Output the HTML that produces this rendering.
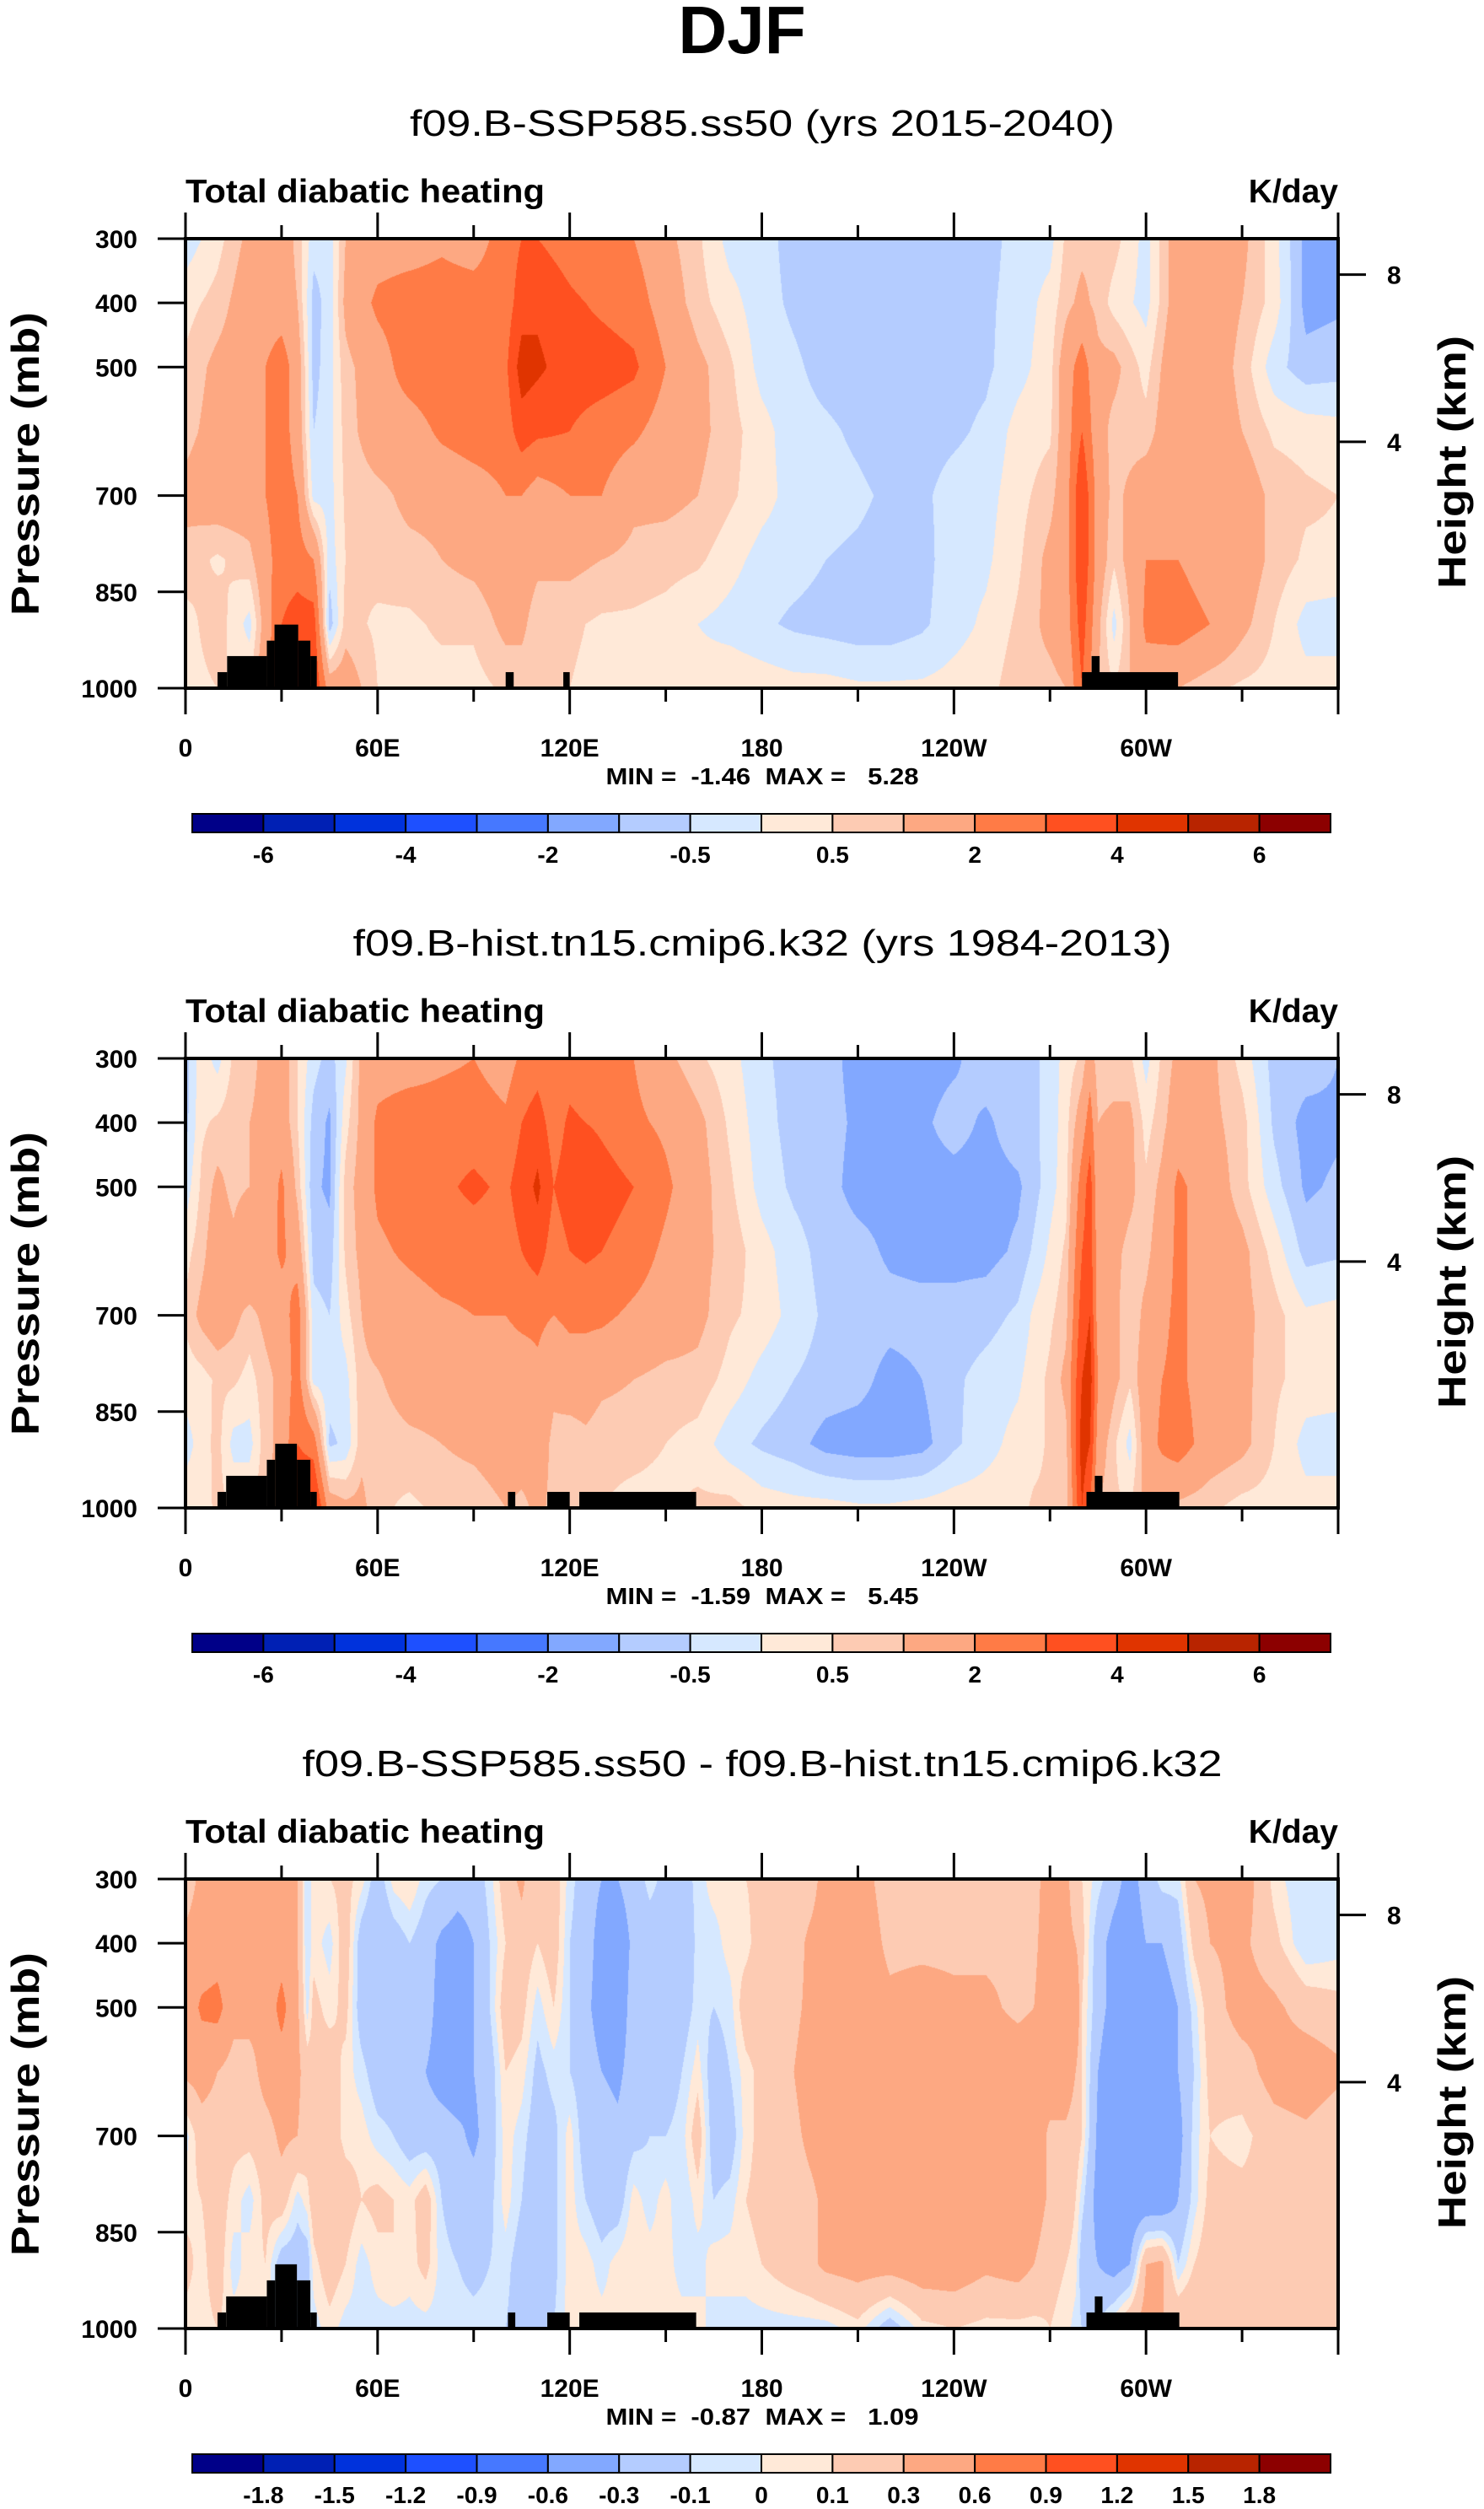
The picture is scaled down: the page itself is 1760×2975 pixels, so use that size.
<!DOCTYPE html>
<html><head><meta charset="utf-8">
<style>
html,body{margin:0;padding:0;background:#fff;}
body{width:1760px;height:2975px;position:relative;overflow:hidden;font-family:"Liberation Sans",sans-serif;}
canvas{position:absolute;}
svg{position:absolute;left:0;top:0;}
text{font-family:"Liberation Sans",sans-serif;}
.pre{white-space:pre;}
</style></head>
<body>
<canvas id="c0" width="1367" height="533" style="left:220px;top:283px"></canvas>
<canvas id="c1" width="1367" height="533" style="left:220px;top:1255px"></canvas>
<canvas id="c2" width="1367" height="533" style="left:220px;top:2228px"></canvas>
<svg id="fig" width="1760" height="2975" xmlns="http://www.w3.org/2000/svg">
<text x="880" y="63" text-anchor="middle" font-size="80" font-weight="bold">DJF</text>
</svg>
<script>
// ---- data ----
const levels = [300,400,500,600,700,800,900,1000];
const lons1 = [0,10,20,30,35,40,45,50,60,70,80,90,100,105,110,120,130,140,150,160,170,180,190,200,210,220,230,240,250,260,270,275,280,285,290,300,310,320,330,340,350,360];
const cols1 = [
[-0.3,0.3,0.6,0.8,1.2,0.8,0.3,0.3],[0.3,0.7,1.2,1.3,1.5,0.4,0.8,0.5],[1.2,1.5,1.5,1.5,1.5,0.8,-0.2,0.5],
[1.5,1.5,2.5,2.5,2.5,2.5,3,3],[0.8,1,1.5,1.5,2,2.5,3.5,4],[-0.3,-0.7,-0.7,-0.5,-0.2,2,3.5,4],
[-0.3,-0.3,-0.2,-0.2,-0.2,-0.3,-0.8,1.5],[1,1.2,0.8,0.7,0.6,0.5,0.7,1.5],[1.5,2.2,1.5,1.5,0.8,0.7,0.4,0.5],
[1.5,2.5,2.5,1.5,1.2,0.8,0.4,0.3],[1.8,2.5,2.7,2.2,1.2,1,0.6,0.3],[1.5,2.5,2.5,2.5,1.5,1.2,0.6,0.3],
[2.5,2.5,2.8,2.5,2,1.5,1.2,0.6],[3,3.5,4.5,3.5,2,1.5,1.2,0.6],[3,3.8,4.2,3.2,1.5,1.2,0.6,0.5],
[2.5,3.2,3.5,3,2,1.2,0.6,0.5],[2,2.8,3.5,2.5,2,1,0.4,0.3],[2,2.5,3.2,2.2,1.2,0.8,0.4,0.3],
[1.2,1.5,2,1.5,1.2,0.7,0.3,0.2],[0.6,0.7,1.2,1.2,1,0.6,0,0.2],[-0.2,0.2,0.6,0.7,0.6,0.2,-0.2,0.4],
[-0.3,-0.3,-0.2,0.2,0.2,-0.2,-0.4,0.3],[-0.7,-0.6,-0.4,-0.3,-0.2,-0.3,-0.6,0.2],[-0.8,-0.8,-0.7,-0.4,-0.3,-0.5,-0.7,0.2],
[-0.8,-0.8,-0.8,-0.6,-0.4,-0.6,-0.8,0.1],[-0.8,-0.8,-0.8,-0.8,-0.6,-0.7,-0.8,0.1],[-0.8,-0.8,-0.8,-0.7,-0.6,-0.7,-0.6,0.1],
[-0.8,-0.8,-0.7,-0.6,-0.3,-0.2,-0.2,0.2],[-0.7,-0.6,-0.6,-0.4,-0.2,-0.1,0.1,0.3],[-0.3,-0.3,-0.2,0.2,0.3,0.4,0.6,0.8],
[-0.2,0.2,0.3,0.4,0.8,1.2,1.2,0.8],[0.6,0.8,1.5,1.5,1.5,1.5,1.5,1],[0.8,1.2,2.5,3,4,4,3.5,3],
[0.8,0.8,1.2,1.3,1.5,1.5,1.2,1],[0.7,0.3,1.2,0.8,0.8,0.6,-0.2,0.5],[-0.2,-0.2,0.3,0.7,1.5,2,2.2,1.5],
[1.5,1.5,1.8,1.8,1.8,2,2.5,1],[1.5,1.5,1.5,1.5,1.5,1.5,2,0.6],[1.2,1,0.8,1,1.5,1.5,1.2,0.4],
[0.2,0.3,-0.3,0.4,0.8,0.8,0.5,0.3],[-1.2,-1.2,-0.8,0.3,0.6,0.4,-0.2,0.2],[-1.3,-1.1,-0.7,0.2,0.5,0.4,-0.3,0.3]];
const lons2 = [0,5,10,15,20,25,30,35,40,45,50,55,60,70,80,90,100,105,110,115,120,125,130,140,150,160,170,180,190,200,210,220,230,240,250,260,265,270,275,280,282.5,285,290,295,300,305,310,320,330,340,350,360];
const cols2 = [
[-0.7,-0.7,-0.3,0.3,0.6,0.2,-0.2,0.3],[0.3,0.4,0.6,0.8,1.2,0.3,0.2,0.3],[-0.2,0.6,1.2,1.5,1.5,0.6,0.7,0.6],
[0.6,0.8,0.8,1.2,1.2,0.6,-0.2,0.5],[0.8,1,1,2,0.8,0.3,-0.2,0.5],[1.2,1.2,1.3,1.5,1.2,0.8,0.8,0.8],
[1.5,1.5,2.2,2.2,1.5,1.2,1.2,1.5],[0.5,0.5,0.8,1.5,2.5,2.5,3,4],[-0.3,-0.7,-0.9,-0.7,-0.3,-0.2,2.5,4.5],
[-0.7,-1.1,-1.1,-0.8,-0.5,-0.3,-0.6,1.5],[-0.1,0.3,0.7,0.6,0.3,-0.2,-0.4,1.2],[1.2,1.2,1.3,1.2,1,0.8,0.8,1.2],
[1.5,2.2,2.2,1.8,1.5,0.9,0.6,0.6],[1.5,2.6,2.6,2.2,1.5,1.5,0.8,0.4],[1.8,2.5,2.8,2.5,1.8,1.5,1,0.6],
[2,2.5,3.2,2.5,2,1.5,1.2,0.6],[1.5,2.2,2.8,2.5,2,1.5,1.5,1],[2.2,3,3.5,3,2.2,1.5,1.5,0.8],
[2.5,3.5,4.2,3.5,2.2,1.8,1.5,1.2],[2,2.5,3,2.5,2,1.2,0.8,0.8],[2.5,3.2,3.5,3,2.2,1.5,0.6,0.6],
[2.2,3,4,3.2,2.2,1.5,0.8,0.5],[2.2,2.8,3.5,3,2.2,1.2,0.6,0.5],[2,2.2,3,2.5,1.8,1,0.6,0.4],
[1.2,1.8,2.2,1.8,1.5,0.8,0.5,0.4],[0.6,1.2,1.3,1.2,1.2,0.8,0.3,0.6],[0.2,0.4,0.6,0.8,0.6,0.3,-0.3,0.7],
[-0.4,-0.3,-0.2,0.2,0.3,-0.2,-0.6,0.3],[-0.7,-0.7,-0.6,-0.3,-0.2,-0.5,-0.8,0.2],[-0.8,-0.8,-0.8,-0.7,-0.6,-0.7,-1.2,0.2],
[-1.2,-1.1,-1.2,-0.8,-0.7,-0.8,-1.3,0.1],[-1.2,-1.1,-1.2,-1.1,-0.8,-1.2,-1.3,0.1],[-1.2,-1.1,-1.2,-1.2,-0.8,-1,-1.2,0.2],
[-1.1,-0.8,-1.2,-1.2,-0.8,-0.6,-0.6,0.3],[-0.7,-1.1,-1.2,-1.2,-0.7,-0.3,-0.2,0.3],[-0.7,-0.7,-1.1,-0.9,-0.4,-0.1,0.2,0.3],
[-0.6,-0.6,-0.7,-0.4,0.1,0.3,0.3,0.6],[-0.3,-0.3,-0.2,0.1,0.4,0.6,0.6,0.6],[0.2,0.3,0.3,0.6,0.8,1.2,0.8,0.6],
[0.6,1.5,2.5,3,3.5,4,4.5,4],[1.5,2.5,3.5,3.5,4,4.5,4,3],[0.6,1,1.2,1.5,1.5,2,1.5,1],
[0.6,1.2,1.5,1.2,1.2,1.2,0.6,0.6],[0.6,1.2,1.2,0.8,0.6,0.6,-0.2,0.5],[-0.2,0.3,0.6,0.8,1.2,1.5,1.5,1.2],
[0.6,0.8,1.2,1.5,1.8,2,2.2,1],[1.2,1.5,2.2,2.2,2.2,2.2,2.5,0.8],[1.2,1.2,1.5,1.5,1.5,1.5,1.5,0.6],
[0.3,0.7,0.7,1.2,1.2,1.2,1.2,0.3],[-0.7,-0.6,-0.3,0.3,0.7,0.6,0.5,0.3],[-0.7,-1.2,-1.1,-0.7,0.1,0.3,-0.2,0.2],
[-1,-1.1,-0.9,-0.6,0.2,0.3,-0.3,0.3]];
const lons3 = [0,5,10,15,20,25,30,35,38,40,45,50,55,60,65,70,75,80,85,90,95,100,105,110,115,120,125,130,135,140,145,150,155,160,165,170,175,180,185,190,195,200,210,220,230,240,250,260,265,270,275,278,280,285,290,295,300,305,310,315,320,330,340,350,360];
const cols3 = [
[0.2,0.35,0.4,0.35,-0.05,0.05,0.15,0.05],[0.35,0.4,0.65,0.4,0.2,0.1,0.05,0.05],[0.4,0.45,0.7,0.3,0.2,0.2,0.2,0.1],
[0.4,0.4,0.4,0.2,0.15,0.05,-0.05,0.05],[0.35,0.35,0.4,0.2,0.15,-0.05,0.05,0.05],[0.45,0.4,0.4,0.4,0.2,0.15,0.1,0.05],
[0.35,0.45,0.7,0.45,0.35,0.2,-0.2,-0.1],[0.3,0.3,0.35,0.35,0.3,-0.05,-0.2,-0.1],[-0.1,-0.1,-0.05,0.2,0.2,0.05,-0.2,-0.1],
[0.05,0.05,0.15,0.15,0.15,0.2,0.05,-0.05],[0.1,-0.05,0.05,0.2,0.2,0.3,0.2,0.05],[0.15,0.2,0.15,0.05,0.05,0.2,0.1,-0.05],
[0.05,-0.2,-0.2,-0.05,0.05,0.1,-0.05,-0.05],[-0.2,-0.3,-0.3,-0.2,-0.05,0.15,0.05,-0.05],[0.05,-0.2,-0.2,-0.2,-0.1,0.1,0.1,-0.05],
[0.1,-0.1,-0.2,-0.2,-0.2,0.05,0.05,-0.05],[-0.05,-0.2,-0.2,-0.3,-0.2,0.2,0.15,-0.05],[-0.1,-0.35,-0.4,-0.4,-0.2,-0.1,-0.05,-0.05],
[-0.2,-0.4,-0.4,-0.45,-0.25,-0.2,-0.1,-0.05],[-0.2,-0.3,-0.3,-0.3,-0.35,-0.2,-0.15,-0.05],[-0.05,-0.1,-0.1,-0.2,-0.2,-0.15,-0.1,-0.05],
[0.2,0.1,0.2,0.1,0.05,0.05,-0.05,-0.1],[0.35,0.2,0.15,0.05,-0.05,-0.1,-0.2,-0.2],[0.1,0.1,-0.05,-0.15,-0.2,-0.25,-0.3,-0.2],
[0.2,0.2,0.1,-0.05,-0.15,-0.15,-0.15,-0.1],[-0.05,-0.1,-0.1,-0.1,0.05,0.05,0.05,0.05],[-0.2,-0.2,-0.25,-0.2,-0.2,-0.1,0.05,0.05],
[-0.3,-0.4,-0.4,-0.3,-0.2,-0.2,-0.05,0.05],[-0.3,-0.45,-0.45,-0.35,-0.25,-0.2,0.05,0.05],[-0.2,-0.25,-0.2,-0.2,-0.15,0.05,0.1,0.05],
[-0.05,-0.2,-0.2,-0.2,-0.1,-0.05,0.05,0.05],[-0.15,-0.2,-0.2,-0.2,-0.1,0.05,0.05,0.05],[-0.2,-0.3,-0.2,-0.1,-0.05,-0.1,-0.05,0.05],
[-0.05,-0.05,-0.05,0.05,0.2,0.05,-0.05,0.05],[0.05,-0.05,-0.1,-0.2,-0.2,-0.1,0.05,-0.05],[0.05,0.05,-0.05,-0.1,-0.2,-0.05,0.05,-0.05],
[0.1,0.05,0.2,0.05,0.05,0.1,0.05,-0.05],[0.15,0.2,0.2,0.15,0.15,0.15,0.1,-0.05],[0.15,0.2,0.2,0.25,0.2,0.2,0.15,-0.05],
[0.15,0.2,0.25,0.3,0.25,0.2,0.2,-0.05],[0.2,0.35,0.35,0.4,0.35,0.25,0.25,-0.05],[0.4,0.4,0.45,0.45,0.4,0.35,0.35,-0.05],
[0.4,0.45,0.45,0.45,0.4,0.35,0.4,0.05],[0.2,0.25,0.35,0.45,0.4,0.4,0.4,-0.2],[0.2,0.25,0.4,0.45,0.45,0.45,0.45,0.05],
[0.2,0.25,0.35,0.45,0.45,0.45,0.45,0.1],[0.2,0.25,0.35,0.45,0.45,0.45,0.35,0.05],[0.2,0.25,0.25,0.45,0.45,0.45,0.4,0.05],
[0.2,0.25,0.3,0.45,0.45,0.45,0.3,0.05],[0.45,0.45,0.45,0.45,0.25,0.25,0.15,0.1],[0.35,0.35,0.4,0.45,0.25,0.2,0.1,0.05],
[0.2,0.3,0.6,0.3,0.2,0.1,0.05,-0.05],[0.1,0.15,0.1,0.1,0.1,-0.05,-0.2,-0.1],[-0.05,-0.2,-0.2,-0.3,-0.35,-0.4,-0.3,-0.1],
[-0.2,-0.4,-0.4,-0.5,-0.5,-0.5,-0.4,0.1],[-0.4,-0.45,-0.5,-0.5,-0.5,-0.5,-0.3,0.3],[-0.2,-0.3,-0.45,-0.5,-0.5,-0.5,0.3,0.4],
[-0.05,-0.3,-0.4,-0.45,-0.45,-0.5,0.35,0.3],[-0.05,-0.2,-0.3,-0.3,-0.4,-0.3,-0.1,0.3],[0.3,0.15,-0.05,-0.1,-0.05,-0.05,0.1,0.3],
[0.35,0.3,0.2,0.15,0.1,0.15,0.2,0.2],[0.45,0.35,0.4,0.2,0.05,0.15,0.1,0.15],[0.05,0.15,0.35,0.4,0.2,0.15,0.2,0.15],
[-0.1,-0.1,0.2,0.45,0.25,0.15,0.15,0.1],[-0.05,-0.05,0.15,0.35,0.15,0.15,0.2,0.1]];
const land1 = [[10,13,975],[13,25.4,950],[25.4,27.8,926],[27.8,35.2,901],[35.2,39,926],[39,41,950],[100,102.5,975],[118,120,975],[280,310,975],[283,285.5,950]];
const land2 = [[10,12.7,975],[12.7,25.4,950],[25.4,28,925],[28,34.8,900],[34.8,39,925],[39,41,975],[100.7,103,975],[113,120,975],[123,159.5,975],[281.4,310.4,975],[284,286.4,950]];
const land3 = land2;
const bounds12 = [-6,-5,-4,-3,-2,-1,-0.5,0,0.5,1,2,3,4,5,6];
const cbLabels12 = ["-6","","-4","","-2","","-0.5","","0.5","","2","","4","","6"];
const bounds3 = [-1.8,-1.5,-1.2,-0.9,-0.6,-0.3,-0.1,0,0.1,0.3,0.6,0.9,1.2,1.5,1.8];
const cbLabels3 = ["-1.8","-1.5","-1.2","-0.9","-0.6","-0.3","-0.1","0","0.1","0.3","0.6","0.9","1.2","1.5","1.8"];
const xTickLons = [0,60,120,180,240,300,360];
const xTickLabels = ["0","60E","120E","180","120W","60W",""];
const pTicks = [300,400,500,700,850,1000];
const zTicks = [8,4];
const titles = ["f09.B-SSP585.ss50 (yrs 2015-2040)","f09.B-hist.tn15.cmip6.k32 (yrs 1984-2013)","f09.B-SSP585.ss50 - f09.B-hist.tn15.cmip6.k32"];
const titleLens = [836,971,1091];
const minmax = ["MIN =  -1.46  MAX =   5.28","MIN =  -1.59  MAX =   5.45","MIN =  -0.87  MAX =   1.09"];
const palette = ["#000088","#0020b4","#0032dc","#1e50ff","#4678ff","#82a8ff","#b4ccff","#d6e8ff","#ffe9d8","#fdcbb3","#fda882","#ff7b46","#ff5020","#e03400","#b82400","#8c0000"];

// ---- layout ----
const X0=220, PW=1367, PH=533;
const tops=[283,1255,2228];
function xS(lon){return X0+lon/360*PW;}
function yS(p,T){return T+(p-300)/700*PH;}
function zToP(z){return 1013.25*Math.pow(1-2.25577e-5*z*1000,5.25588);}
const NS="http://www.w3.org/2000/svg";
const svg=document.getElementById('fig');
function mk(tag,attrs,txt,parent){const e=document.createElementNS(NS,tag);for(const k in attrs)e.setAttribute(k,attrs[k]);if(txt!==undefined)e.textContent=txt;(parent||svg).appendChild(e);return e;}

function hex(h){return [parseInt(h.substr(1,2),16),parseInt(h.substr(3,2),16),parseInt(h.substr(5,2),16)];}
const rgb=palette.map(hex);

function renderField(cv,lons,cols,bounds){
  const ctx=cv.getContext('2d');const img=ctx.createImageData(PW,PH);const d=img.data;
  const xi=new Int32Array(PW),xt=new Float32Array(PW);
  for(let x=0;x<PW;x++){const lon=(x+0.5)/PW*360;let i=0;while(i<lons.length-2&&lons[i+1]<lon)i++;xi[x]=i;xt[x]=(lon-lons[i])/(lons[i+1]-lons[i]);}
  for(let y=0;y<PH;y++){
    const p=300+(y+0.5)/PH*700;let j=Math.min(6,Math.floor((p-300)/100));const s=(p-levels[j])/100;
    for(let x=0;x<PW;x++){
      const i=xi[x],t=xt[x];const a=cols[i],b=cols[i+1];
      const v=(a[j]*(1-t)+b[j]*t)*(1-s)+(a[j+1]*(1-t)+b[j+1]*t)*s;
      let k=0;while(k<bounds.length&&v>=bounds[k])k++;
      const c=rgb[k];const o=(y*PW+x)*4;d[o]=c[0];d[o+1]=c[1];d[o+2]=c[2];d[o+3]=255;
    }
  }
  ctx.putImageData(img,0,0);
}

const fields=[[lons1,cols1,bounds12,land1,cbLabels12],[lons2,cols2,bounds12,land2,cbLabels12],[lons3,cols3,bounds3,land3,cbLabels3]];
fields.forEach((f,n)=>{
  const T=tops[n];
  renderField(document.getElementById('c'+n),f[0],f[1],f[2]);
  const g=mk('g',{});
  
  
  f[3].forEach(L=>{
    const r=mk('rect',{x:xS(L[0]),y:yS(L[2],T),width:xS(L[1])-xS(L[0]),height:yS(1000,T)-yS(L[2],T),fill:'#000'},undefined,g);
    
    
  });
  const fr=mk('rect',{x:X0,y:T,width:PW,height:PH,fill:'none',stroke:'#000','stroke-width':4},undefined,g);
  
  
  const st=mk('text',{x:904,y:T-122,'text-anchor':'middle','font-size':44,textLength:titleLens[n],lengthAdjust:'spacingAndGlyphs'},titles[n],g);
  
  
  const lt=mk('text',{x:X0,y:T-43,'font-size':39,'font-weight':'bold',textLength:426,lengthAdjust:'spacingAndGlyphs'},'Total diabatic heating',g);
  
  
  const ut=mk('text',{x:X0+PW,y:T-43,'font-size':39,'font-weight':'bold','text-anchor':'end'},'K/day',g);
  
  
  for(let lon=0;lon<=360;lon+=30){
    const major=lon%60===0;const x=xS(lon);const len=major?31:16;
    mk('line',{x1:x,x2:x,y1:T,y2:T-len,stroke:'#000','stroke-width':3},undefined,g);
    mk('line',{x1:x,x2:x,y1:T+PH,y2:T+PH+len,stroke:'#000','stroke-width':3},undefined,g);
  }
  xTickLons.forEach((lon,i)=>{
    const t=mk('text',{x:xS(lon),y:T+614,'text-anchor':'middle','font-size':30,'font-weight':'bold'},xTickLabels[i],g);
    
    
  });
  pTicks.forEach(p=>{
    const y=yS(p,T);
    mk('line',{x1:X0-33,x2:X0,y1:y,y2:y,stroke:'#000','stroke-width':3},undefined,g);
    const t=mk('text',{x:163,y:y+11,'text-anchor':'end','font-size':30,'font-weight':'bold'},String(p),g);
    
    
  });
  zTicks.forEach(z=>{
    const y=yS(zToP(z),T);
    mk('line',{x1:X0+PW,x2:X0+PW+33,y1:y,y2:y,stroke:'#000','stroke-width':3},undefined,g);
    const t=mk('text',{x:1645,y:y+11,'font-size':30,'font-weight':'bold'},String(z),g);
    
    
  });
  const pl=mk('text',{x:0,y:0,'text-anchor':'middle','font-size':46,'font-weight':'bold',transform:`translate(46,${T+267}) rotate(-90)`,textLength:360,lengthAdjust:'spacingAndGlyphs'},'Pressure (mb)',g);
  
  
  const hl=mk('text',{x:0,y:0,'text-anchor':'middle','font-size':46,'font-weight':'bold',transform:`translate(1738,${T+265}) rotate(-90)`,textLength:300,lengthAdjust:'spacingAndGlyphs'},'Height (km)',g);
  
  
  const mm=mk('text',{x:904,y:T+647,'text-anchor':'middle','font-size':28,'font-weight':'bold',textLength:371,lengthAdjust:'spacingAndGlyphs','class':'pre'},minmax[n],g);
  
  
  const cbX=228,cbW=1350,cbY=T+682,cbH=22,bw=cbW/16;
  palette.forEach((c,i)=>{
    const r=mk('rect',{x:cbX+i*bw,y:cbY,width:bw,height:cbH,fill:c,stroke:'#000','stroke-width':2},undefined,g);
    
    
  });
  f[4].forEach((lab,i)=>{
    if(!lab)return;
    const t=mk('text',{x:cbX+(i+1)*bw,y:T+740,'text-anchor':'middle','font-size':28,'font-weight':'bold'},lab,g);
    
    
  });
});
</script>
</body></html>
